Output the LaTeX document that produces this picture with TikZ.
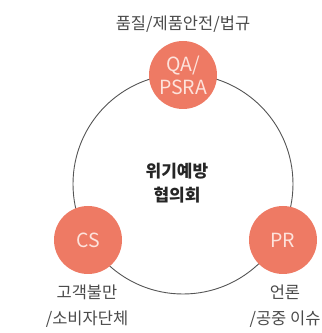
\documentclass[tikz,border=0pt]{standalone}
\usepackage{fontspec}
\setmainfont{Noto Sans CJK KR}
\definecolor{coral}{HTML}{EE7A64}
\definecolor{pale}{HTML}{FDE3DC}
\definecolor{lbl}{HTML}{4A4A4A}
\definecolor{ring}{HTML}{555555}
\begin{document}
\begin{tikzpicture}[x=1pt,y=1pt,
  role/.style={circle,fill=coral,minimum size=68pt,inner sep=0pt,text=pale,font=\fontsize{19.5}{23}\selectfont,align=center},
  captxt/.style={text=lbl,font=\fontsize{16.5}{26}\selectfont,align=center,inner sep=0pt},
  ctr/.style={text=black!85,font=\bfseries\fontsize{17}{24}\selectfont,align=center,inner sep=0pt}]
\useasboundingbox (0,0) rectangle (322,333);
\clip (0,0) rectangle (322,333);
\coordinate (o) at (183,149);
\draw[ring,line width=0.9pt] (o) circle[radius=110];
\node[role] (qa) at (183,258) {QA/\\PSRA};
\node[role] (cs) at (88,93) {CS};
\node[role] (pr) at (283,93) {PR};
\node[ctr] (mid) at (177,150) {위기예방\\협의회};
\node[captxt] (tqa) at (183,309) {품질/제품안전/법규};
\node[captxt] (tcs) at (87,27) {고객불만\\/소비자단체};
\node[captxt] (tpr) at (285,27) {언론\\/공중 이슈};
\end{tikzpicture}
\end{document}
